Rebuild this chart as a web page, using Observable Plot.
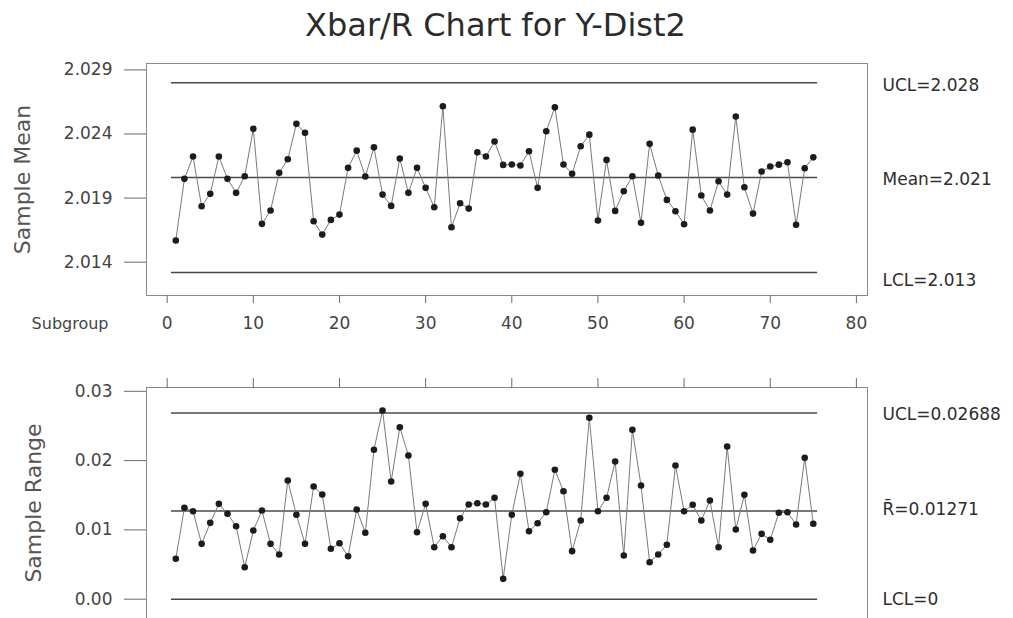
<!DOCTYPE html>
<html>
<head>
<meta charset="utf-8">
<script src="https://cdn.jsdelivr.net/npm/d3@7"></script>
<script src="https://cdn.jsdelivr.net/npm/@observablehq/plot@0.6"></script>
<style>
  html, body { margin: 0; padding: 0; background: #fff; }
  body { width: 1013px; height: 618px; overflow: hidden; position: relative; font-family: "DejaVu Sans", sans-serif; }
  #title { position: absolute; top: 5px; left: -11px; width: 1013px; text-align: center; font-size: 32px; line-height: 40px; color: #2b2b2b; }
  #top, #bottom { position: absolute; left: 0; }
  #top { top: 0; }
  #bottom { top: 340px; }
</style>
</head>
<body>
<div id="title">Xbar/R Chart for Y-Dist2</div>
<div id="top"></div>
<div id="bottom"></div>
<script>
// ---- data ----
const sampleMeans = [
  2.01569, 2.02050, 2.02224, 2.01836, 2.01933, 2.02224, 2.02050, 2.01941, 2.02070, 2.02440,
  2.01699, 2.01803, 2.02097, 2.02203, 2.02479, 2.02409, 2.01719, 2.01615, 2.01730, 2.01771,
  2.02136, 2.02270, 2.02068, 2.02296, 2.01927, 2.01839, 2.02208, 2.01941, 2.02136, 2.01980,
  2.01828, 2.02616, 2.01672, 2.01860, 2.01818, 2.02257, 2.02224, 2.02341, 2.02159, 2.02162,
  2.02154, 2.02265, 2.01980, 2.02421, 2.02608, 2.02162, 2.02089, 2.02304, 2.02395, 2.01725,
  2.02198, 2.01800, 2.01953, 2.02070, 2.01707, 2.02323, 2.02076, 2.01886, 2.01797, 2.01696,
  2.02434, 2.01920, 2.01803, 2.02031, 2.01927, 2.02536, 2.01984, 2.01779, 2.02107, 2.02146,
  2.02161, 2.02179, 2.01691, 2.02133, 2.02218
];
const sampleRanges = [
  0.00583, 0.01319, 0.01270, 0.00799, 0.01102, 0.01376, 0.01232, 0.01053, 0.00462, 0.00991,
  0.01280, 0.00799, 0.00645, 0.01713, 0.01218, 0.00799, 0.01626, 0.01511, 0.00727, 0.00808,
  0.00620, 0.01294, 0.00958, 0.02156, 0.02723, 0.01698, 0.02482, 0.02074, 0.00967, 0.01376,
  0.00750, 0.00909, 0.00750, 0.01169, 0.01366, 0.01385, 0.01366, 0.01463, 0.00294, 0.01218,
  0.01810, 0.00981, 0.01097, 0.01255, 0.01867, 0.01558, 0.00693, 0.01136, 0.02618, 0.01270,
  0.01463, 0.01987, 0.00631, 0.02444, 0.01641, 0.00534, 0.00645, 0.00785, 0.01929, 0.01270,
  0.01362, 0.01136, 0.01424, 0.00750, 0.02203, 0.01006, 0.01506, 0.00703, 0.00943, 0.00857,
  0.01247, 0.01255, 0.01078, 0.02040, 0.01088
];
const meanLimits = [2.028, 2.0206, 2.0132];
const meanLimitLabels = ["UCL=2.028", "Mean=2.021", "LCL=2.013"];
const rangeLimits = [0.02688, 0.01271, 0];
const rangeLimitLabels = ["UCL=0.02688", "R\u0304=0.01271", "LCL=0"];
const subgroupTicks = [0, 10, 20, 30, 40, 50, 60, 70, 80];
const meanTicks = [2.014, 2.019, 2.024, 2.029];
const rangeTicks = [0.00, 0.01, 0.02, 0.03];

// ---- layout / style ----
const xDomain = [-2.4, 81.29];
const ink = "#2e2e2e";
const seriesStroke = "#7a7a7a";
const limitStroke = "#4a4a4a";
const frameStroke = "#8a8a8a";
const tickStroke = "#6a6a6a";
const baseStyle = {background: "transparent", fontFamily: "DejaVu Sans, sans-serif", fontSize: "17px", color: "#444", overflow: "visible"};

const first = 1, last = sampleMeans.length;
const meanData = sampleMeans.map((v, i) => ({subgroup: i + 1, value: v}));
const rangeData = sampleRanges.map((v, i) => ({subgroup: i + 1, value: v}));

function limitMarks(limits, labels, dys) {
  const rows = limits.map((v, i) => ({value: v, label: labels[i]}));
  return [
    Plot.ruleY(rows, {y: "value", x1: first - 0.5, x2: last + 0.5, stroke: limitStroke, strokeWidth: 1.5}),
    ...rows.map((r, i) => Plot.text([r], {y: "value", text: "label", frameAnchor: "right", dx: 15, dy: dys[i],
      textAnchor: "start", lineAnchor: "middle", fill: ink, fontSize: 17}))
  ];
}

const topChart = Plot.plot({
  width: 1013, height: 340,
  marginTop: 63, marginBottom: 45, marginLeft: 146, marginRight: 146,
  style: baseStyle,
  x: {domain: xDomain, label: null},
  y: {domain: [2.0114, 2.0295], label: null},
  marks: [
    Plot.frame({stroke: frameStroke}),
    Plot.axisY({ticks: meanTicks, tickFormat: d3.format(".3f"), tickSize: 22, tickPadding: 12, stroke: tickStroke, fill: "#444", label: null}),
    Plot.axisX({anchor: "bottom", ticks: subgroupTicks, tickSize: 8, tickPadding: 13, stroke: tickStroke, fill: "#444", label: null}),
    Plot.text(["Subgroup"], {frameAnchor: "bottom-left", dx: -38, dy: 28, textAnchor: "end", lineAnchor: "middle", fill: "#444", fontSize: 16}),
    Plot.text(["Sample Mean"], {frameAnchor: "left", dx: -124, rotate: -90, textAnchor: "middle", lineAnchor: "middle", fill: "#555", fontSize: 22}),
    ...limitMarks(meanLimits, meanLimitLabels, [3, 1.6, 8]),
    Plot.line(meanData, {x: "subgroup", y: "value", stroke: seriesStroke, strokeWidth: 1}),
    Plot.dot(meanData, {x: "subgroup", y: "value", r: 3.3, fill: "#1c1c1c", stroke: "none"})
  ]
});
document.getElementById("top").append(topChart);

const rangeYDomain = [-0.002785, 0.030548];
const bottomChart = Plot.plot({
  width: 1013, height: 278,
  marginTop: 47, marginBottom: 0, marginLeft: 146, marginRight: 146,
  style: baseStyle,
  x: {domain: xDomain, label: null},
  y: {domain: rangeYDomain, label: null},
  marks: [
    Plot.ruleY([rangeYDomain[1]], {stroke: frameStroke}),
    Plot.ruleX(xDomain, {stroke: frameStroke}),
    Plot.axisY({ticks: rangeTicks, tickFormat: d3.format(".2f"), tickSize: 22, tickPadding: 12, stroke: tickStroke, fill: "#444", label: null}),
    Plot.axisX({anchor: "top", ticks: subgroupTicks, tickSize: 10, tickFormat: () => "", stroke: tickStroke, label: null}),
    Plot.text(["Sample Range"], {frameAnchor: "left", dx: -113, rotate: -90, textAnchor: "middle", lineAnchor: "middle", fill: "#555", fontSize: 22}),
    ...limitMarks(rangeLimits, rangeLimitLabels, [1.6, -1.7, 0.6]),
    Plot.line(rangeData, {x: "subgroup", y: "value", stroke: seriesStroke, strokeWidth: 1}),
    Plot.dot(rangeData, {x: "subgroup", y: "value", r: 3.3, fill: "#1c1c1c", stroke: "none"})
  ]
});
document.getElementById("bottom").append(bottomChart);
</script>
</body>
</html>
